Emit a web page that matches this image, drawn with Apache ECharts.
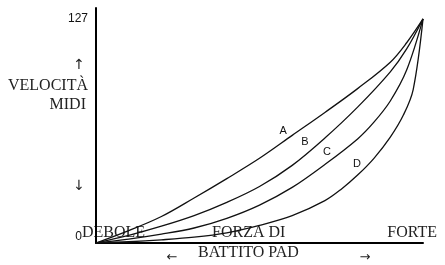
<!DOCTYPE html>
<html>
<head>
<meta charset="utf-8">
<script src="https://cdn.jsdelivr.net/npm/echarts@6/dist/echarts.min.js"></script>
<style>
html,body{margin:0;padding:0;background:#fff;}
#chart{width:445px;height:265px;}
</style>
</head>
<body>
<div id="chart"></div>
<script>
// curve points [forza, velocita]
var curveA = [[0,0],[10,7],[20,15],[30,25.5],[40,36.5],[50,48],[60,61],[70,74],[80,87.5],[90,102.5],[95,113.5],[100,127]];
var curveB = [[0,0],[10,4.3],[20,9.5],[30,15.5],[40,23],[50,32],[60,44],[70,59.5],[80,77],[90,97],[95,110],[100,127]];
var curveC = [[0,0],[10,2.2],[20,5],[30,8.5],[40,14],[50,21.5],[60,31.5],[70,44.5],[80,59],[85,68.5],[90,80.5],[95,98],[100,127]];
var curveD = [[0,0],[10,0.7],[20,1.8],[30,3.3],[40,5.8],[50,10],[60,15.5],[70,24],[75,30.5],[80,38.5],[85,48],[90,60],[94,72.5],[97,87],[100,127]];
var curveNames = ['A','B','C','D'];
var labelAt = [[57.2,63.5],[63.9,57.3],[70.6,51.6],[79.8,44.8]];
var yTicks = [0,127];

function initChart(){
	var myChart = echarts.init(document.getElementById('chart'));
	var curves = [curveA, curveB, curveC, curveD];
	var series = [];
	for (var i = 0; i < curves.length; i++) {
		series.push({
			type:'line',
			name:curveNames[i],
			data:curves[i],
			smooth:0.35,
			symbol:'none',
			silent:true,
			lineStyle:{color:'#111',width:1.3},
			markPoint:{
				symbol:'circle',
				symbolSize:0,
				data:[{coord:labelAt[i],value:curveNames[i]}],
				label:{show:true,position:'inside',formatter:curveNames[i],color:'#111',fontSize:11,fontFamily:'Liberation Sans'}
			}
		});
	}
	var option = {
		animation:false,
		backgroundColor:'#fff',
		grid:{left:96,right:22,top:8,bottom:22},
		xAxis:{
			type:'value',min:0,max:100,
			axisLine:{show:true,lineStyle:{color:'#000',width:2}},
			axisTick:{show:false},axisLabel:{show:false},splitLine:{show:false}
		},
		yAxis:{
			type:'value',min:0,max:133.2,interval:127,
			axisLine:{show:true,lineStyle:{color:'#000',width:2}},
			axisTick:{show:false},splitLine:{show:false},
			axisLabel:{
				margin:8,color:'#111',fontSize:12,fontFamily:'Liberation Sans',
				formatter:function(v){
					if (v === yTicks[0]) return '{z|' + v + '}';
					if (v === yTicks[1]) return '' + v;
					return '';
				},
				rich:{z:{fontSize:12,fontFamily:'Liberation Sans',color:'#111',padding:[0,6,12,0]}}
			}
		},
		graphic:[
			{type:'text',x:88,y:86,style:{text:'VELOCITÀ',font:'16px "Liberation Serif"',fill:'#222',align:'right',verticalAlign:'middle'}},
			{type:'text',x:86,y:105,style:{text:'MIDI',font:'16px "Liberation Serif"',fill:'#222',align:'right',verticalAlign:'middle'}},
			{type:'text',x:79,y:65,style:{text:'↑',font:'14px "DejaVu Sans"',fill:'#222',align:'center',verticalAlign:'middle'}},
			{type:'text',x:79,y:186,style:{text:'↓',font:'14px "DejaVu Sans"',fill:'#222',align:'center',verticalAlign:'middle'}},
			{type:'text',x:82,y:233,style:{text:'DEBOLE',font:'16px "Liberation Serif"',fill:'#222',align:'left',verticalAlign:'middle'}},
			{type:'text',x:212,y:233,style:{text:'FORZA DI',font:'16px "Liberation Serif"',fill:'#222',align:'left',verticalAlign:'middle'}},
			{type:'text',x:437,y:233,style:{text:'FORTE',font:'16px "Liberation Serif"',fill:'#222',align:'right',verticalAlign:'middle'}},
			{type:'text',x:198,y:253,style:{text:'BATTITO PAD',font:'16px "Liberation Serif"',fill:'#222',align:'left',verticalAlign:'middle'}},
			{type:'text',x:172,y:258,style:{text:'←',font:'13px "DejaVu Sans"',fill:'#222',align:'center',verticalAlign:'middle'}},
			{type:'text',x:365,y:258,style:{text:'→',font:'13px "DejaVu Sans"',fill:'#222',align:'center',verticalAlign:'middle'}}
		],
		series:series
	};
	myChart.setOption(option);
}
initChart();
</script>
</body>
</html>
